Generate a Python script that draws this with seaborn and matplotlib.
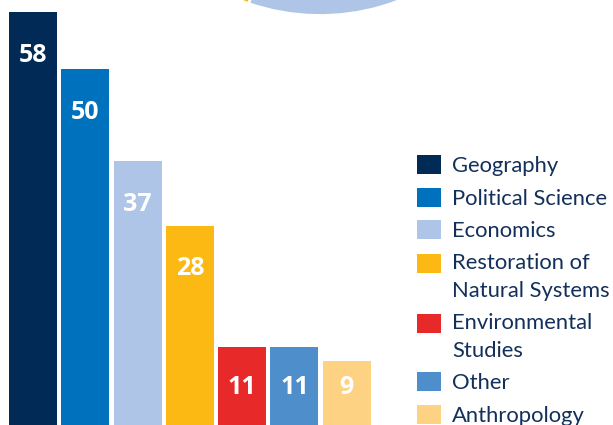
import matplotlib.pyplot as plt
import pandas as pd
import seaborn as sns
from matplotlib.legend_handler import HandlerPatch
from matplotlib.patches import Rectangle

categories = ["Geography", "Political Science", "Economics",
              "Restoration of\nNatural Systems", "Environmental\nStudies",
              "Other", "Anthropology"]
counts = [58, 50, 37, 28, 11, 11, 9]
colors = ["#012a56", "#0071bc", "#aec5e7", "#fdb913", "#e8292a", "#4e8ecb", "#fed283"]

# bottom edge of a pie chart that sits above this one (only a sliver shows)
pie_values = [19, 71, 270]
pie_colors = ["#fdb913", "#aec5e7", "white"]

df = pd.DataFrame({"category": categories, "count": counts})

fig = plt.figure(figsize=(6.13, 4.25), dpi=100)

pax = fig.add_axes([101/613, 409.5/425, 438/613, 438/425])
pax.pie(pie_values, colors=pie_colors, startangle=232, counterclock=True,
        wedgeprops=dict(edgecolor="white", linewidth=2))
pax.set_xlim(-1, 1)
pax.set_ylim(-1, 1)

ax = fig.add_axes([6.85/613, 0, 366/613, 1])
sns.barplot(data=df, x="category", y="count", hue="category", palette=colors,
            saturation=1, width=0.918, legend=True, ax=ax)
ax.set_xlim(-0.5, 6.5)
ax.set_ylim(0, 59.65)
ax.axis("off")

for i, v in enumerate(counts):
    ax.text(i, max(v - 6.1, 5.2), str(v), ha="center", va="center",
            color="white", fontsize=18, fontweight="bold", family="Open Sans")


# two-line labels: keep the swatch level with the first line
def first_line_patch(legend, orig_handle, xdescent, ydescent, width, height, fontsize):
    return Rectangle((-xdescent, -ydescent + 10.0), width, height)


handles, labels = ax.get_legend_handles_labels()
ax.get_legend().remove()
hmap = {h: HandlerPatch(patch_func=first_line_patch) for h, l in zip(handles, labels) if "\n" in l}
leg = fig.legend(handles, labels, loc="upper left", bbox_to_anchor=(417/613, 1 - 155/425),
                 frameon=False, borderpad=0, borderaxespad=0,
                 prop={"family": "Lato", "size": 15.8},
                 labelcolor="#13305a", handlelength=1.1, handleheight=0.96,
                 handletextpad=0.5, labelspacing=0.53, handler_map=hmap)
for t in leg.get_texts():
    t.set_linespacing(1.5)

fig.savefig("out.png", dpi=100)
